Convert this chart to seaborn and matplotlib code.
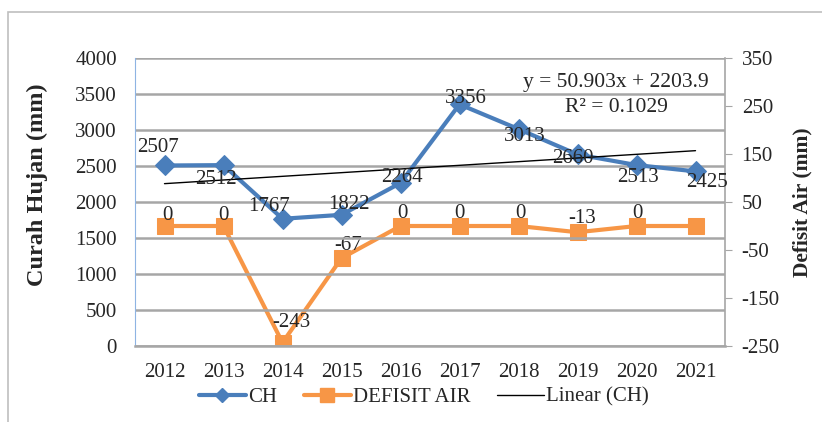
import numpy as np
import pandas as pd
import seaborn as sns
import matplotlib.pyplot as plt
from matplotlib.lines import Line2D

# data
tahun = ['2012', '2013', '2014', '2015', '2016', '2017', '2018', '2019', '2020', '2021']
ch = [2507, 2512, 1767, 1822, 2264, 3356, 3013, 2660, 2513, 2425]
defisit = [0, 0, -243, -67, 0, 0, 0, -13, 0, 0]

# letak label data (piksel), None = tanpa label
off_ch = [(-7, 18), (-8, -14), (-13, 12), (7, 10), (1, 5), (6, 6), (6, -7), (-5, -4), (1, -12), (11, -11)]
off_def = [(3, 10), (0, 10), (9, 20), (7, 13), (2, 12), (0, 12), (2, 13), (5, 14), (1, 13), None]

df = pd.DataFrame({'tahun': tahun, 'CH': ch, 'DEFISIT': defisit})

sns.set_style("white")
plt.rcParams['font.family'] = ['Liberation Serif', 'DejaVu Serif']
plt.rcParams['font.size'] = 15
plt.rcParams['axes.unicode_minus'] = False

biru = '#4A7EBB'
oranye = '#F79646'
abu = '#A6A6A6'

fig = plt.figure(figsize=(8.22, 4.22), dpi=100)
ax = fig.add_axes([135/822, 1-346/422, 590/822, 288/422])
ax2 = ax.twinx()

sns.lineplot(data=df, x='tahun', y='CH', ax=ax, color=biru, lw=3, marker='D',
             markersize=10, markeredgecolor=biru, legend=False)
sns.lineplot(data=df, x='tahun', y='DEFISIT', ax=ax2, color=oranye, lw=3, marker='s',
             markersize=12, markeredgecolor=oranye, legend=False)

# trend linear
xs = np.arange(1, len(ch) + 1)
b, a = np.polyfit(xs, ch, 1)
pred = b * xs + a
r2 = 1 - np.sum((np.array(ch) - pred) ** 2) / np.sum((np.array(ch) - np.mean(ch)) ** 2)
sns.lineplot(x=xs - 1, y=pred, ax=ax, color='black', lw=1, legend=False)
fig.text(616/822, 1-82/422, f'y = {b:.3f}x + {a:.1f}', ha='center', va='center', fontsize=15.5)
fig.text(616/822, 1-107/422, f'R² = {r2:.4f}', ha='center', va='center', fontsize=15.5)

# label data
for i, v in enumerate(ch):
    ax.annotate(str(v), (i, v), xytext=off_ch[i], textcoords='offset pixels',
                ha='center', va='center')
for i, v in enumerate(defisit):
    if off_def[i] is None:
        continue
    ax2.annotate(str(v), (i, v), xytext=off_def[i], textcoords='offset pixels',
                 ha='center', va='center')

ax.set_xlim(-0.5, 9.5)
ax.set_ylim(0, 4000)
ax.set_yticks(range(0, 4001, 500))
ax2.set_ylim(-250, 350)
ax2.set_yticks(range(-250, 351, 100))

ax.grid(axis='y', color=abu, lw=1.8)
ax.set_axisbelow(True)
ax.set_zorder(ax2.get_zorder() + 1)
ax.patch.set_visible(False)

ax.spines['top'].set_visible(False)
ax2.spines['top'].set_visible(False)
ax.spines['left'].set_color('#8EB4E3')
ax2.spines['left'].set_visible(False)
ax.spines['right'].set_visible(False)
ax2.spines['right'].set_color(abu)
ax2.spines['right'].set_linewidth(1.2)
ax.spines['bottom'].set_color(abu)
ax.spines['bottom'].set_linewidth(1.8)
ax2.spines['bottom'].set_visible(False)

ax.tick_params(axis='y', length=0, pad=13)
ax.tick_params(axis='x', length=0, pad=12)
ax2.tick_params(axis='y', length=5, color=abu, direction='out', pad=7)

ax.set_xlabel('')
ax.set_ylabel('')
ax2.set_ylabel('')
fig.text(37/822, 1-185/422, 'Curah Hujan (mm)', rotation=90, fontweight='bold',
         fontsize=17.5, ha='center', va='center')
fig.text(802/822, 1-202/422, 'Defisit Air (mm)', rotation=90, fontweight='bold',
         fontsize=15.5, ha='center', va='center')

handles = [
    Line2D([], [], color=biru, lw=3, marker='D', markersize=7),
    Line2D([], [], color=oranye, lw=3, marker='s', markersize=10),
    Line2D([], [], color='black', lw=1),
]
fig.legend(handles, ['CH', 'DEFISIT AIR', 'Linear (CH)'], loc='center',
           bbox_to_anchor=(424/822, 1-397/422), ncol=3, frameon=False,
           handlelength=2.25, handletextpad=0.1, columnspacing=1.3, borderpad=0)

# bingkai luar
fig.add_artist(plt.Rectangle((8/822, -0.1), 1.2, 1 - 12/422 + 0.1, transform=fig.transFigure,
                             fill=False, edgecolor='#BFBFBF', lw=1.2))

fig.savefig('out.png', dpi=100)
